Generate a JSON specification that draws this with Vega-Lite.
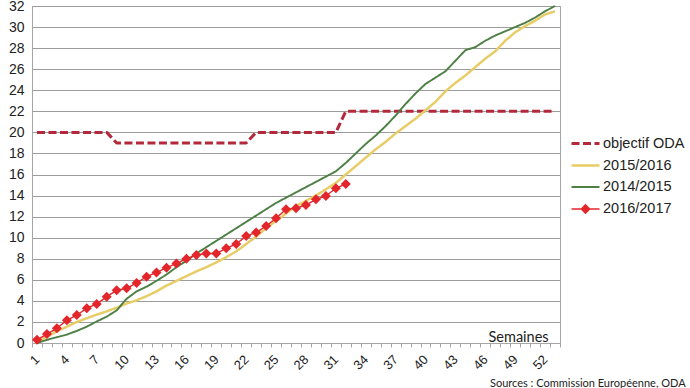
{
  "$schema": "https://vega.github.io/schema/vega-lite/v6.json",
  "width": 528,
  "height": 337,
  "autosize": {"type": "none"},
  "padding": {"left": 32, "top": 6, "right": 130, "bottom": 45},
  "background": "white",
  "config": {
    "font": "Liberation Sans",
    "view": {"stroke": "#a6a6a6", "strokeWidth": 1}
  },
  "title": {
    "text": "Sources : Commission Européenne, ODA",
    "orient": "bottom",
    "anchor": "start",
    "align": "left",
    "frame": "group",
    "dx": 458,
    "dy": 2,
    "offset": 4,
    "font": "Lato",
    "fontSize": 11,
    "fontWeight": "normal",
    "color": "#222222"
  },
  "datasets": {
    "series": [
      {"week": 1, "serie": "objectif ODA", "value": 20}, {"week": 2, "serie": "objectif ODA", "value": 20}, {"week": 3, "serie": "objectif ODA", "value": 20}, {"week": 4, "serie": "objectif ODA", "value": 20}, {"week": 5, "serie": "objectif ODA", "value": 20}, {"week": 6, "serie": "objectif ODA", "value": 20}, {"week": 7, "serie": "objectif ODA", "value": 20}, {"week": 8, "serie": "objectif ODA", "value": 20}, {"week": 9, "serie": "objectif ODA", "value": 19}, {"week": 10, "serie": "objectif ODA", "value": 19}, {"week": 11, "serie": "objectif ODA", "value": 19}, {"week": 12, "serie": "objectif ODA", "value": 19}, {"week": 13, "serie": "objectif ODA", "value": 19}, {"week": 14, "serie": "objectif ODA", "value": 19}, {"week": 15, "serie": "objectif ODA", "value": 19}, {"week": 16, "serie": "objectif ODA", "value": 19}, {"week": 17, "serie": "objectif ODA", "value": 19}, {"week": 18, "serie": "objectif ODA", "value": 19}, {"week": 19, "serie": "objectif ODA", "value": 19}, {"week": 20, "serie": "objectif ODA", "value": 19}, {"week": 21, "serie": "objectif ODA", "value": 19}, {"week": 22, "serie": "objectif ODA", "value": 19}, {"week": 23, "serie": "objectif ODA", "value": 20}, {"week": 24, "serie": "objectif ODA", "value": 20}, {"week": 25, "serie": "objectif ODA", "value": 20}, {"week": 26, "serie": "objectif ODA", "value": 20}, {"week": 27, "serie": "objectif ODA", "value": 20}, {"week": 28, "serie": "objectif ODA", "value": 20}, {"week": 29, "serie": "objectif ODA", "value": 20}, {"week": 30, "serie": "objectif ODA", "value": 20}, {"week": 31, "serie": "objectif ODA", "value": 20}, {"week": 32, "serie": "objectif ODA", "value": 22}, {"week": 33, "serie": "objectif ODA", "value": 22}, {"week": 34, "serie": "objectif ODA", "value": 22}, {"week": 35, "serie": "objectif ODA", "value": 22}, {"week": 36, "serie": "objectif ODA", "value": 22}, {"week": 37, "serie": "objectif ODA", "value": 22}, {"week": 38, "serie": "objectif ODA", "value": 22}, {"week": 39, "serie": "objectif ODA", "value": 22}, {"week": 40, "serie": "objectif ODA", "value": 22}, {"week": 41, "serie": "objectif ODA", "value": 22}, {"week": 42, "serie": "objectif ODA", "value": 22}, {"week": 43, "serie": "objectif ODA", "value": 22}, {"week": 44, "serie": "objectif ODA", "value": 22}, {"week": 45, "serie": "objectif ODA", "value": 22}, {"week": 46, "serie": "objectif ODA", "value": 22}, {"week": 47, "serie": "objectif ODA", "value": 22}, {"week": 48, "serie": "objectif ODA", "value": 22}, {"week": 49, "serie": "objectif ODA", "value": 22}, {"week": 50, "serie": "objectif ODA", "value": 22}, {"week": 51, "serie": "objectif ODA", "value": 22}, {"week": 52, "serie": "objectif ODA", "value": 22}, {"week": 53, "serie": "objectif ODA", "value": 22},
      {"week": 1, "serie": "2015/2016", "value": 0.1}, {"week": 2, "serie": "2015/2016", "value": 0.6}, {"week": 3, "serie": "2015/2016", "value": 1.1}, {"week": 4, "serie": "2015/2016", "value": 1.55}, {"week": 5, "serie": "2015/2016", "value": 2.0}, {"week": 6, "serie": "2015/2016", "value": 2.35}, {"week": 7, "serie": "2015/2016", "value": 2.7}, {"week": 8, "serie": "2015/2016", "value": 3.0}, {"week": 9, "serie": "2015/2016", "value": 3.35}, {"week": 10, "serie": "2015/2016", "value": 3.75}, {"week": 11, "serie": "2015/2016", "value": 4.05}, {"week": 12, "serie": "2015/2016", "value": 4.45}, {"week": 13, "serie": "2015/2016", "value": 4.9}, {"week": 14, "serie": "2015/2016", "value": 5.45}, {"week": 15, "serie": "2015/2016", "value": 5.9}, {"week": 16, "serie": "2015/2016", "value": 6.35}, {"week": 17, "serie": "2015/2016", "value": 6.8}, {"week": 18, "serie": "2015/2016", "value": 7.2}, {"week": 19, "serie": "2015/2016", "value": 7.65}, {"week": 20, "serie": "2015/2016", "value": 8.15}, {"week": 21, "serie": "2015/2016", "value": 8.7}, {"week": 22, "serie": "2015/2016", "value": 9.4}, {"week": 23, "serie": "2015/2016", "value": 10.1}, {"week": 24, "serie": "2015/2016", "value": 10.9}, {"week": 25, "serie": "2015/2016", "value": 11.6}, {"week": 26, "serie": "2015/2016", "value": 12.3}, {"week": 27, "serie": "2015/2016", "value": 13.0}, {"week": 28, "serie": "2015/2016", "value": 13.5}, {"week": 29, "serie": "2015/2016", "value": 14.0}, {"week": 30, "serie": "2015/2016", "value": 14.6}, {"week": 31, "serie": "2015/2016", "value": 15.2}, {"week": 32, "serie": "2015/2016", "value": 16.0}, {"week": 33, "serie": "2015/2016", "value": 16.8}, {"week": 34, "serie": "2015/2016", "value": 17.6}, {"week": 35, "serie": "2015/2016", "value": 18.4}, {"week": 36, "serie": "2015/2016", "value": 19.1}, {"week": 37, "serie": "2015/2016", "value": 19.9}, {"week": 38, "serie": "2015/2016", "value": 20.6}, {"week": 39, "serie": "2015/2016", "value": 21.3}, {"week": 40, "serie": "2015/2016", "value": 22.1}, {"week": 41, "serie": "2015/2016", "value": 22.9}, {"week": 42, "serie": "2015/2016", "value": 23.9}, {"week": 43, "serie": "2015/2016", "value": 24.7}, {"week": 44, "serie": "2015/2016", "value": 25.4}, {"week": 45, "serie": "2015/2016", "value": 26.2}, {"week": 46, "serie": "2015/2016", "value": 27.0}, {"week": 47, "serie": "2015/2016", "value": 27.7}, {"week": 48, "serie": "2015/2016", "value": 28.7}, {"week": 49, "serie": "2015/2016", "value": 29.5}, {"week": 50, "serie": "2015/2016", "value": 30.1}, {"week": 51, "serie": "2015/2016", "value": 30.6}, {"week": 52, "serie": "2015/2016", "value": 31.2}, {"week": 53, "serie": "2015/2016", "value": 31.5},
      {"week": 1, "serie": "2014/2015", "value": 0.0}, {"week": 2, "serie": "2014/2015", "value": 0.3}, {"week": 3, "serie": "2014/2015", "value": 0.55}, {"week": 4, "serie": "2014/2015", "value": 0.8}, {"week": 5, "serie": "2014/2015", "value": 1.15}, {"week": 6, "serie": "2014/2015", "value": 1.55}, {"week": 7, "serie": "2014/2015", "value": 2.05}, {"week": 8, "serie": "2014/2015", "value": 2.5}, {"week": 9, "serie": "2014/2015", "value": 3.1}, {"week": 10, "serie": "2014/2015", "value": 4.2}, {"week": 11, "serie": "2014/2015", "value": 4.9}, {"week": 12, "serie": "2014/2015", "value": 5.35}, {"week": 13, "serie": "2014/2015", "value": 5.9}, {"week": 14, "serie": "2014/2015", "value": 6.5}, {"week": 15, "serie": "2014/2015", "value": 7.2}, {"week": 16, "serie": "2014/2015", "value": 7.8}, {"week": 17, "serie": "2014/2015", "value": 8.5}, {"week": 18, "serie": "2014/2015", "value": 9.1}, {"week": 19, "serie": "2014/2015", "value": 9.7}, {"week": 20, "serie": "2014/2015", "value": 10.3}, {"week": 21, "serie": "2014/2015", "value": 10.9}, {"week": 22, "serie": "2014/2015", "value": 11.5}, {"week": 23, "serie": "2014/2015", "value": 12.1}, {"week": 24, "serie": "2014/2015", "value": 12.7}, {"week": 25, "serie": "2014/2015", "value": 13.3}, {"week": 26, "serie": "2014/2015", "value": 13.8}, {"week": 27, "serie": "2014/2015", "value": 14.3}, {"week": 28, "serie": "2014/2015", "value": 14.8}, {"week": 29, "serie": "2014/2015", "value": 15.3}, {"week": 30, "serie": "2014/2015", "value": 15.8}, {"week": 31, "serie": "2014/2015", "value": 16.3}, {"week": 32, "serie": "2014/2015", "value": 17.1}, {"week": 33, "serie": "2014/2015", "value": 18.0}, {"week": 34, "serie": "2014/2015", "value": 18.9}, {"week": 35, "serie": "2014/2015", "value": 19.7}, {"week": 36, "serie": "2014/2015", "value": 20.6}, {"week": 37, "serie": "2014/2015", "value": 21.6}, {"week": 38, "serie": "2014/2015", "value": 22.7}, {"week": 39, "serie": "2014/2015", "value": 23.7}, {"week": 40, "serie": "2014/2015", "value": 24.6}, {"week": 41, "serie": "2014/2015", "value": 25.2}, {"week": 42, "serie": "2014/2015", "value": 25.8}, {"week": 43, "serie": "2014/2015", "value": 26.8}, {"week": 44, "serie": "2014/2015", "value": 27.8}, {"week": 45, "serie": "2014/2015", "value": 28.1}, {"week": 46, "serie": "2014/2015", "value": 28.7}, {"week": 47, "serie": "2014/2015", "value": 29.2}, {"week": 48, "serie": "2014/2015", "value": 29.6}, {"week": 49, "serie": "2014/2015", "value": 30.0}, {"week": 50, "serie": "2014/2015", "value": 30.4}, {"week": 51, "serie": "2014/2015", "value": 30.9}, {"week": 52, "serie": "2014/2015", "value": 31.5}, {"week": 53, "serie": "2014/2015", "value": 32.0},
      {"week": 1, "serie": "2016/2017", "value": 0.3}, {"week": 2, "serie": "2016/2017", "value": 0.85}, {"week": 3, "serie": "2016/2017", "value": 1.4}, {"week": 4, "serie": "2016/2017", "value": 2.15}, {"week": 5, "serie": "2016/2017", "value": 2.65}, {"week": 6, "serie": "2016/2017", "value": 3.3}, {"week": 7, "serie": "2016/2017", "value": 3.7}, {"week": 8, "serie": "2016/2017", "value": 4.4}, {"week": 9, "serie": "2016/2017", "value": 5.0}, {"week": 10, "serie": "2016/2017", "value": 5.2}, {"week": 11, "serie": "2016/2017", "value": 5.7}, {"week": 12, "serie": "2016/2017", "value": 6.3}, {"week": 13, "serie": "2016/2017", "value": 6.7}, {"week": 14, "serie": "2016/2017", "value": 7.15}, {"week": 15, "serie": "2016/2017", "value": 7.55}, {"week": 16, "serie": "2016/2017", "value": 8.0}, {"week": 17, "serie": "2016/2017", "value": 8.35}, {"week": 18, "serie": "2016/2017", "value": 8.5}, {"week": 19, "serie": "2016/2017", "value": 8.5}, {"week": 20, "serie": "2016/2017", "value": 9.0}, {"week": 21, "serie": "2016/2017", "value": 9.4}, {"week": 22, "serie": "2016/2017", "value": 10.15}, {"week": 23, "serie": "2016/2017", "value": 10.5}, {"week": 24, "serie": "2016/2017", "value": 11.1}, {"week": 25, "serie": "2016/2017", "value": 11.85}, {"week": 26, "serie": "2016/2017", "value": 12.7}, {"week": 27, "serie": "2016/2017", "value": 12.8}, {"week": 28, "serie": "2016/2017", "value": 13.1}, {"week": 29, "serie": "2016/2017", "value": 13.65}, {"week": 30, "serie": "2016/2017", "value": 13.95}, {"week": 31, "serie": "2016/2017", "value": 14.7}, {"week": 32, "serie": "2016/2017", "value": 15.1}
    ]
  },
  "data": {"name": "series"},
  "encoding": {
    "x": {
      "field": "week",
      "type": "quantitative",
      "scale": {"domain": [0.5, 53.5], "nice": false, "zero": false},
      "axis": {
        "title": "Semaines",
        "titleX": 456,
        "titleY": -2,
        "titleAlign": "left",
        "titleBaseline": "alphabetic",
        "titleFont": "Lato",
        "titleFontSize": 14.5,
        "titleFontWeight": "normal",
        "titleColor": "#222222",
        "values": [0.5, 1.5, 2.5, 3.5, 4.5, 5.5, 6.5, 7.5, 8.5, 9.5, 10.5, 11.5, 12.5, 13.5, 14.5, 15.5, 16.5, 17.5, 18.5, 19.5, 20.5, 21.5, 22.5, 23.5, 24.5, 25.5, 26.5, 27.5, 28.5, 29.5, 30.5, 31.5, 32.5, 33.5, 34.5, 35.5, 36.5, 37.5, 38.5, 39.5, 40.5, 41.5, 42.5, 43.5, 44.5, 45.5, 46.5, 47.5, 48.5, 49.5, 50.5, 51.5, 52.5, 53.5],
        "labelExpr": "(datum.value - 0.5) % 3 == 0 ? '' + (datum.value + 0.5) : ''",
        "labelOffset": 5,
        "labelAngle": -45,
        "labelAlign": "right",
        "labelBaseline": "middle",
        "labelFontSize": 13,
        "labelColor": "#222222",
        "labelOverlap": false,
        "labelFlush": false,
        "labelPadding": 10,
        "ticks": true,
        "tickSize": 4,
        "tickColor": "#a6a6a6",
        "domainColor": "#a6a6a6",
        "grid": false
      }
    },
    "y": {
      "field": "value",
      "type": "quantitative",
      "scale": {"domain": [0, 32], "nice": false},
      "axis": {
        "title": null,
        "values": [0, 2, 4, 6, 8, 10, 12, 14, 16, 18, 20, 22, 24, 26, 28, 30, 32],
        "grid": true,
        "gridColor": "#9c9c9c",
        "gridWidth": 1,
        "ticks": false,
        "labelPadding": 8,
        "labelFontSize": 14,
        "labelColor": "#222222",
        "domainColor": "#a6a6a6"
      }
    }
  },
  "layer": [
    {
      "mark": {"type": "line", "strokeCap": "butt", "strokeJoin": "round"},
      "encoding": {
        "color": {
          "field": "serie",
          "type": "nominal",
          "scale": {
            "domain": ["objectif ODA", "2015/2016", "2014/2015", "2016/2017"],
            "range": ["#b3283a", "#e8cc66", "#4e8045", "#e3262b"]
          },
          "legend": {
            "title": null,
            "orient": "none",
            "legendX": 538,
            "legendY": 122,
            "symbolType": "stroke",
            "symbolSize": 784,
            "labelFontSize": 14.5,
            "labelColor": "#222222",
            "labelOffset": 2,
            "rowPadding": -5,
            "encode": {
              "symbols": {
                "update": {
                  "strokeWidth": {"signal": "datum.value === 'objectif ODA' || datum.value === '2016/2017' ? 3 : 1.4"},
                  "strokeDash": {"signal": "datum.value === 'objectif ODA' ? [5, 2.5] : [1, 0]"},
                  "shape": {"signal": "datum.value === '2016/2017' ? 'M-1,0H1M0,-0.3L0.3,0L0,0.3L-0.3,0Z' : 'stroke'"},
                  "fill": {"signal": "datum.value === '2016/2017' ? '#e3262b' : 'transparent'"}
                }
              }
            }
          }
        },
        "strokeDash": {
          "field": "serie",
          "type": "nominal",
          "scale": {
            "domain": ["objectif ODA", "2015/2016", "2014/2015", "2016/2017"],
            "range": [[8, 3.5], [1, 0], [1, 0], [1, 0]]
          },
          "legend": null
        },
        "strokeWidth": {
          "field": "serie",
          "type": "nominal",
          "scale": {
            "domain": ["objectif ODA", "2015/2016", "2014/2015", "2016/2017"],
            "range": [3, 1.4, 1.4, 3]
          },
          "legend": null
        }
      }
    },
    {
      "transform": [{"filter": "datum.serie == '2016/2017'"}],
      "mark": {"type": "point", "shape": "diamond", "filled": true, "color": "#e3262b", "size": 100, "opacity": 1}
    }
  ]
}
